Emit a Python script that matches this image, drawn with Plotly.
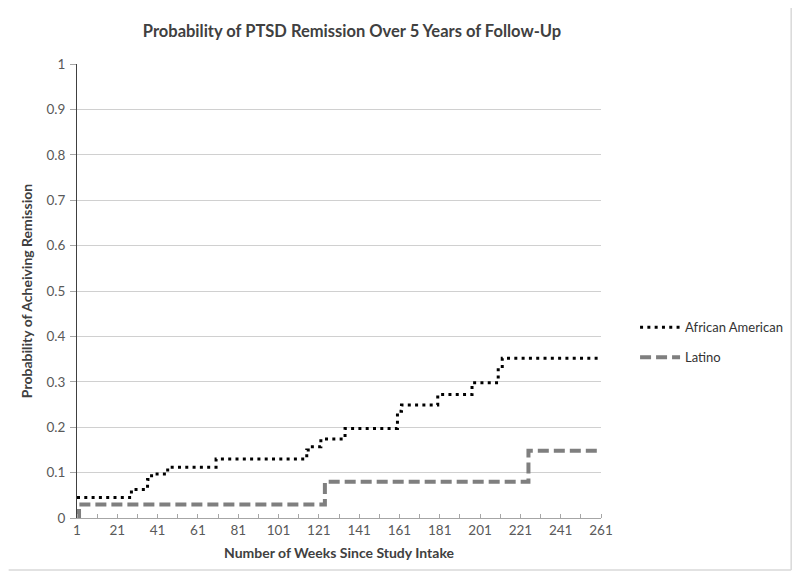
import plotly.graph_objects as go

# step points (week, probability)
aa_weeks = [1, 28, 36, 38, 46, 70, 115, 117, 122, 134, 160, 162, 180, 197, 210, 212, 260]
aa_probs = [0.045, 0.063, 0.085, 0.097, 0.112, 0.13, 0.15, 0.157, 0.174, 0.197, 0.235, 0.249,
            0.272, 0.298, 0.33, 0.352, 0.352]

latino_weeks = [1, 2, 124, 225, 261]
latino_probs = [0, 0.03, 0.08, 0.148, 0.148]

x_ticks = list(range(1, 262, 20))
y_ticks = [0, 0.1, 0.2, 0.3, 0.4, 0.5, 0.6, 0.7, 0.8, 0.9, 1]

font = 'Lato'

# page body adds an 8px offset, so the figure is 8px smaller each way
W, H = 792, 575
L, R, T, B = 69, 194, 56, 65
pw, ph = W - L - R, H - T - B

fig = go.Figure()
fig.add_trace(go.Scatter(x=aa_weeks, y=aa_probs, mode='lines', name='African American',
                         legendgroup='aa',
                         line=dict(shape='hv', color='black', width=3, dash='3px,4.3px')))
fig.add_trace(go.Scatter(x=latino_weeks, y=latino_probs, mode='lines', name='Latino',
                         legendgroup='lat',
                         line=dict(shape='hv', color='#7f7f7f', width=4, dash='11px,5px')))

fig.update_layout(
    width=W, height=H,
    paper_bgcolor='white', plot_bgcolor='white',
    margin=dict(l=L, r=R, t=T, b=B),
    font=dict(family=font, color='#595959', size=12),
    title=dict(text='<b>Probability of PTSD Remission Over 5 Years of Follow-Up</b>',
               x=344 / W, xanchor='center', y=1 - 23 / H, yanchor='middle',
               font=dict(size=16.5, color='#404040', family=font)),
    legend=dict(x=1.065, y=0.387, xanchor='left', yanchor='middle',
                font=dict(size=13, color='#333333'), tracegroupgap=10,
                itemwidth=40),
    shapes=[
        dict(type='line', xref='paper', yref='paper',
             x0=(790 - L) / pw, x1=(790 - L) / pw, y0=(H - T - 571) / ph, y1=1 + T / ph,
             line=dict(color='#d9d9d9', width=1.5)),
        dict(type='line', xref='paper', yref='paper',
             x0=-L / pw, x1=(790 - L) / pw, y0=(H - T - 571) / ph, y1=(H - T - 571) / ph,
             line=dict(color='#d9d9d9', width=1.5)),
    ],
)
fig.update_xaxes(range=[1, 261], tickvals=x_ticks, ticks='', showgrid=False,
                 showline=True, linecolor='#a6a6a6', linewidth=1,
                 minor=dict(dtick=10, tick0=1, ticks='inside', ticklen=4, tickcolor='#a6a6a6'),
                 tickfont=dict(size=13.5, color='#595959'),
                 title=dict(text='<b>Number of Weeks Since Study Intake</b>',
                            font=dict(size=14, color='#404040'), standoff=10))
fig.update_yaxes(range=[0, 1], tickvals=y_ticks, ticktext=[f'{v:g}' for v in y_ticks],
                 showgrid=True, gridcolor='#d0d0d0', gridwidth=1,
                 showline=True, linecolor='#404040', linewidth=1, zeroline=False,
                 ticks='outside', ticklen=6, tickcolor='#a6a6a6',
                 ticklabelstandoff=2,
                 tickfont=dict(size=13.5, color='#595959'),
                 title=dict(text='<b>Probability of Acheiving Remission</b>',
                            font=dict(size=14, color='#404040'), standoff=10))

fig.write_html('out.html')
